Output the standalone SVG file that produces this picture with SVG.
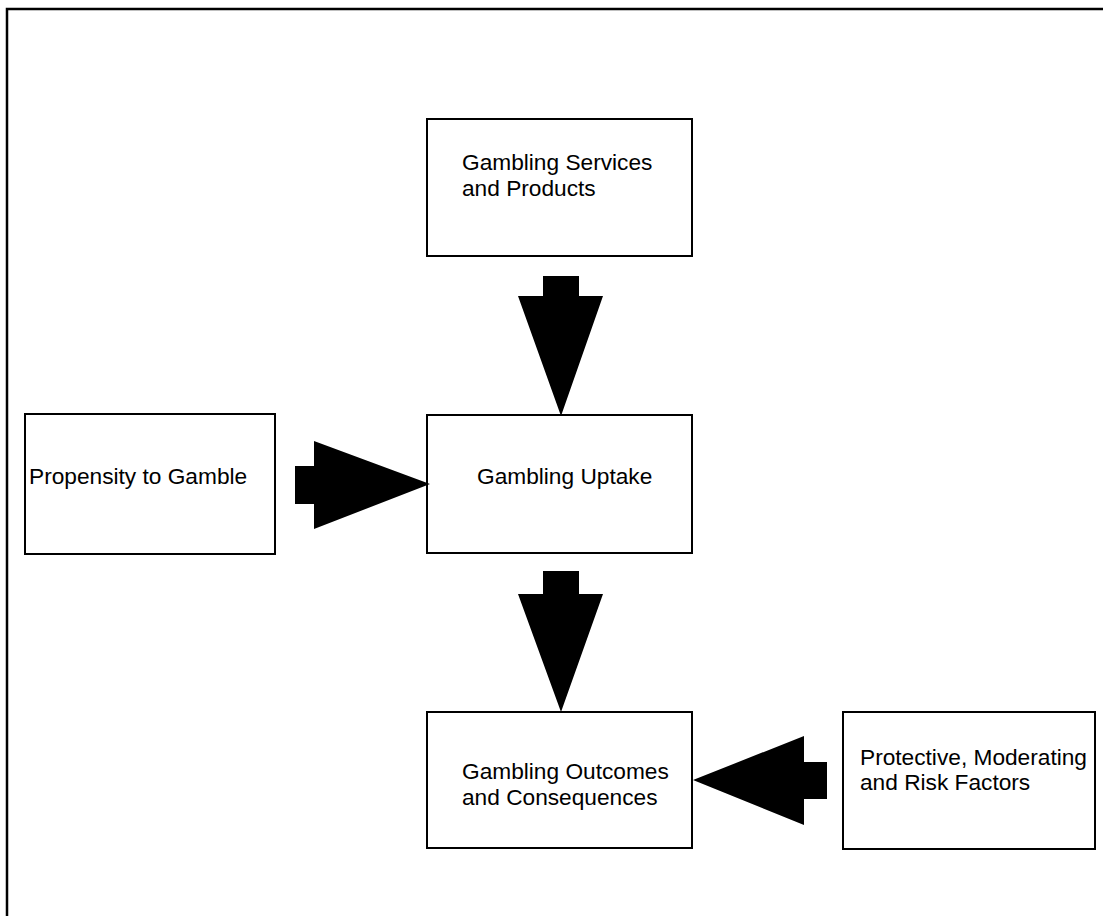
<svg xmlns="http://www.w3.org/2000/svg" width="1103" height="916" viewBox="0 0 1103 916">
<style>
.box{fill:#fff;stroke:#000;stroke-width:2}
.lbl{font-family:"Liberation Sans",Arial,sans-serif;font-size:22.7px;fill:#000}
.arr{fill:#000;stroke:none}
</style>
<rect x="0" y="0" width="1103" height="916" fill="#fff"/>
<path d="M7,930 V9 H1110" fill="none" stroke="#000" stroke-width="2.5"/>
<g id="node-services">
<rect class="box" x="427" y="119" width="265" height="137"/>
<text class="lbl" x="462" y="170">Gambling Services</text>
<text class="lbl" x="462" y="196">and Products</text>
</g>
<g id="node-uptake">
<rect class="box" x="427" y="415" width="265" height="138"/>
<text class="lbl" x="477" y="484">Gambling Uptake</text>
</g>
<g id="node-propensity">
<rect class="box" x="25" y="414" width="250" height="140"/>
<text class="lbl" x="29" y="484">Propensity to Gamble</text>
</g>
<g id="node-outcomes">
<rect class="box" x="427" y="712" width="265" height="136"/>
<text class="lbl" x="462" y="779">Gambling Outcomes</text>
<text class="lbl" x="462" y="805">and Consequences</text>
</g>
<g id="node-factors">
<rect class="box" x="843" y="712" width="252" height="137"/>
<text class="lbl" x="860" y="765">Protective, Moderating</text>
<text class="lbl" x="860" y="790">and Risk Factors</text>
</g>
<g id="connectors">
<polygon class="arr" points="543,276 579,276 579,296 603,296 561,416 518,296 543,296"/>
<polygon class="arr" points="543,571 579,571 579,594 603,594 561,712 518,594 543,594"/>
<polygon class="arr" points="295,466 314,466 314,441 430,484 314,529 314,504 295,504"/>
<polygon class="arr" points="827,762 804,762 804,736 693,780 804,825 804,799 827,799"/>
</g>
</svg>
